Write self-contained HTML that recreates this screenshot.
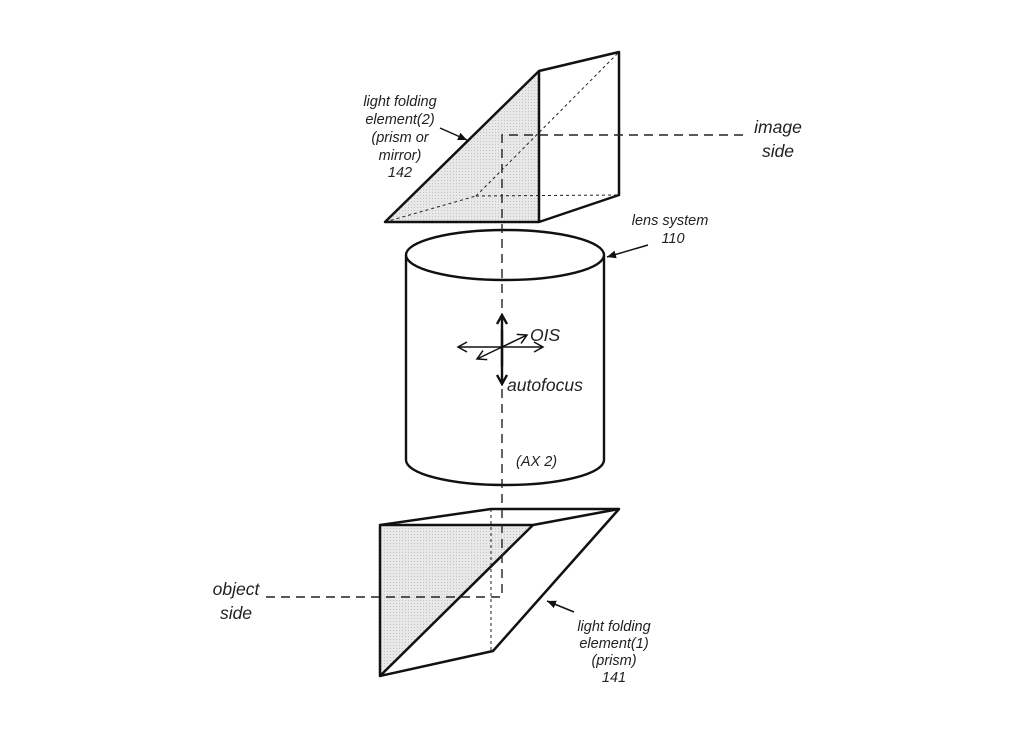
<!DOCTYPE html>
<html><head><meta charset="utf-8"><style>
body{margin:0;background:#fff;}
svg text{font-family:"Liberation Sans",sans-serif;font-style:italic;fill:#222;}
</style></head><body>
<svg width="1024" height="733" viewBox="0 0 1024 733" xmlns="http://www.w3.org/2000/svg">
<defs>
<pattern id="dots" width="3" height="3" patternUnits="userSpaceOnUse"><rect width="3" height="3" fill="#e8e8e8"/><rect width="1" height="1" fill="#c4c4c4"/></pattern>
<marker id="ah" markerWidth="10" markerHeight="10" refX="9" refY="5" orient="auto" markerUnits="userSpaceOnUse"><path d="M0,1 L9,5 L0,9 z" fill="#111"/></marker>
<marker id="oa" markerWidth="12" markerHeight="12" refX="10" refY="6" orient="auto" markerUnits="userSpaceOnUse"><path d="M1,1 L10,6 L1,11" fill="none" stroke="#111" stroke-width="1.5"/></marker>
<marker id="va" markerWidth="12" markerHeight="12" refX="10" refY="6" orient="auto" markerUnits="userSpaceOnUse"><path d="M1,1 L10,6 L1,11" fill="none" stroke="#111" stroke-width="2.4"/></marker>
</defs>
<polygon points="385,222 539,71 539,222" fill="url(#dots)"/>
<g stroke="#222" stroke-width="1" fill="none" stroke-dasharray="3,3">
<line x1="385" y1="222" x2="476" y2="196"/>
<line x1="476" y1="196" x2="619" y2="195"/>
<line x1="476" y1="196" x2="619" y2="52"/>
</g>
<g stroke="#111" stroke-width="2.5" fill="none" stroke-linejoin="round">
<polygon points="385,222 539,71 619,52 619,195 539,222"/>
<line x1="539" y1="71" x2="539" y2="222"/>
</g>
<g stroke="#111" stroke-width="2.4" fill="#fff">
<path d="M406,255 L406,460 A99,25 0 0 0 604,460 L604,255"/>
<ellipse cx="505" cy="255" rx="99" ry="25"/>
</g>
<polygon points="380,525 533,525 380,676" fill="url(#dots)"/>
<line x1="491" y1="509" x2="491" y2="651" stroke="#222" stroke-width="1" stroke-dasharray="3,3"/>
<g stroke="#111" stroke-width="2.5" fill="none" stroke-linejoin="round">
<polygon points="380,525 491,509 619,509 493,651 380,676"/>
<line x1="380" y1="525" x2="533" y2="525"/>
<line x1="619" y1="509" x2="533" y2="525"/>
<line x1="380" y1="676" x2="533" y2="525"/>
</g>
<g stroke="#222" stroke-width="1.4" fill="none" stroke-dasharray="9,6">
<polyline points="743,135 502,135 502,597 265,597"/>
</g>
<line x1="502" y1="366" x2="502" y2="315" stroke="#111" stroke-width="2.4" marker-end="url(#va)"/>
<line x1="502" y1="330" x2="502" y2="384" stroke="#111" stroke-width="2.4" marker-end="url(#va)"/>
<line x1="500" y1="347" x2="458" y2="347" stroke="#111" stroke-width="1.5" marker-end="url(#oa)"/>
<line x1="500" y1="347" x2="543" y2="347" stroke="#111" stroke-width="1.5" marker-end="url(#oa)"/>
<line x1="502" y1="347" x2="477" y2="359" stroke="#111" stroke-width="1.5" marker-end="url(#oa)"/>
<line x1="502" y1="347" x2="527" y2="335" stroke="#111" stroke-width="1.5" marker-end="url(#oa)"/>
<line x1="440" y1="128" x2="467" y2="140" stroke="#111" stroke-width="1.5" marker-end="url(#ah)"/>
<line x1="648" y1="245" x2="607" y2="257" stroke="#111" stroke-width="1.5" marker-end="url(#ah)"/>
<line x1="574" y1="612" x2="547" y2="601" stroke="#111" stroke-width="1.5" marker-end="url(#ah)"/>
<g font-size="14.5" text-anchor="middle">
<text x="400" y="106">light folding</text>
<text x="400" y="124">element(2)</text>
<text x="400" y="142">(prism or</text>
<text x="400" y="160">mirror)</text>
<text x="400" y="177">142</text>
<text x="670" y="225">lens system</text>
<text x="673" y="243">110</text>
<text x="614" y="631">light folding</text>
<text x="614" y="648">element(1)</text>
<text x="614" y="665">(prism)</text>
<text x="614" y="682">141</text>
</g>
<g font-size="17.5" text-anchor="middle">
<text x="778" y="133">image</text>
<text x="778" y="157">side</text>
<text x="236" y="595">object</text>
<text x="236" y="619">side</text>
</g>
<text x="530" y="341" font-size="17.5">OIS</text>
<text x="507" y="391" font-size="17.5">autofocus</text>
<text x="516" y="466" font-size="14.5">(AX 2)</text>
</svg>
</body></html>
